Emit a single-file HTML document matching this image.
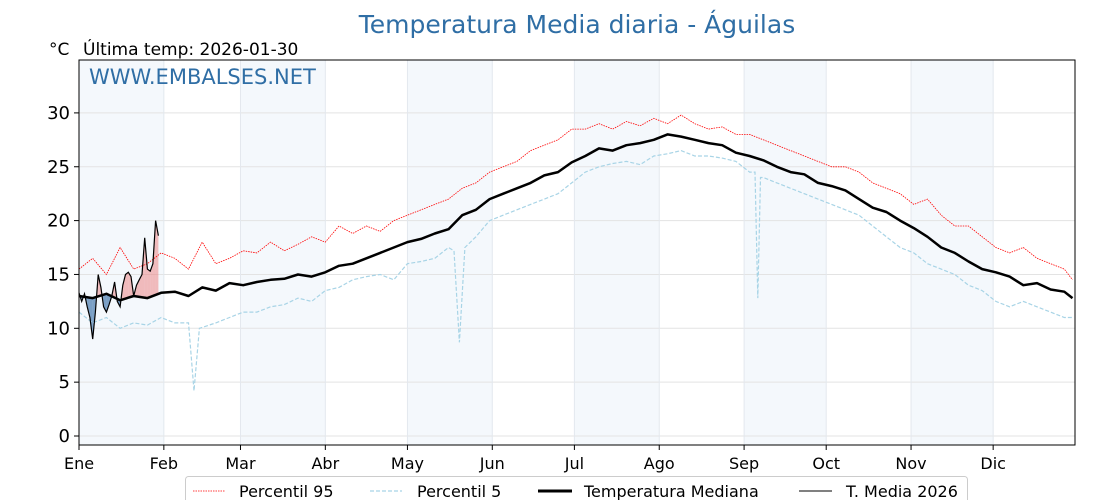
<!DOCTYPE html>
<html><head><meta charset="utf-8">
<style>
body{margin:0;background:#fff;}
svg{display:block;font-family:"Liberation Sans","DejaVu Sans",sans-serif;}
</style></head>
<body>
<svg id="chart" width="1120" height="500" viewBox="0 0 1120 500">
<text x="577" y="33" text-anchor="middle" font-size="25" fill="#2f6ea5" font-family="DejaVu Sans, sans-serif">Temperatura Media diaria - Águilas</text>
<text x="49" y="55" font-size="17" fill="#000" font-family="DejaVu Sans, sans-serif">°C</text>
<text x="83" y="55" font-size="17" fill="#000" font-family="DejaVu Sans, sans-serif">Última temp: 2026-01-30</text>
<g id="bands"></g>
<g id="grid"></g>
<g id="series"></g>
<text x="89" y="84" font-size="21" fill="#2f6ea5" font-family="DejaVu Sans, sans-serif">WWW.EMBALSES.NET</text>
<rect x="79" y="60" width="996" height="385" fill="none" stroke="#000" stroke-width="1"/>
<g id="axes"></g>
<g>
<rect x="185.5" y="476.5" width="782" height="30" rx="3" fill="#fff" stroke="#ccc"/>
<line x1="193" y1="491" x2="225" y2="491" stroke="red" stroke-width="0.8" stroke-dasharray="1.5,1"/>
<text x="239" y="497" font-size="16" font-family="DejaVu Sans, sans-serif">Percentil 95</text>
<line x1="370" y1="491" x2="402" y2="491" stroke="#a8d4e6" stroke-width="1.2" stroke-dasharray="4,2"/>
<text x="417" y="497" font-size="16" font-family="DejaVu Sans, sans-serif">Percentil 5</text>
<line x1="538" y1="491" x2="572" y2="491" stroke="#000" stroke-width="3"/>
<text x="584" y="497" font-size="16" font-family="DejaVu Sans, sans-serif">Temperatura Mediana</text>
<line x1="799" y1="491" x2="832" y2="491" stroke="#000" stroke-width="1"/>
<text x="846" y="497" font-size="16" font-family="DejaVu Sans, sans-serif">T. Media 2026</text>
</g>
</svg>
<script>
const monthLabels=["Ene","Feb","Mar","Abr","May","Jun","Jul","Ago","Sep","Oct","Nov","Dic"];
const monthStarts=[0,31,59,90,120,151,181,212,243,273,304,334];
const yTicks=[0,5,10,15,20,25,30];
const stepDays=[0,5,10,15,20,25,30,35,40,45,50,55,60,65,70,75,80,85,90,95,100,105,110,115,120,125,130,135,140,145,150,155,160,165,170,175,180,185,190,195,200,205,210,215,220,225,230,235,240,245,250,255,260,265,270,275,280,285,290,295,300,305,310,315,320,325,330,335,340,345,350,355,360,363];
const medianVals=[13.0,12.8,13.2,12.6,13.0,12.8,13.3,13.4,13.0,13.8,13.5,14.2,14.0,
14.3,14.5,14.6,15.0,14.8,15.2,15.8,16.0,16.5,17.0,17.5,18.0,
18.3,18.8,19.2,20.5,21.0,22.0,22.5,23.0,23.5,24.2,24.5,25.4,
26.0,26.7,26.5,27.0,27.2,27.5,28.0,27.8,27.5,27.2,27.0,26.3,
26.0,25.6,25.0,24.5,24.3,23.5,23.2,22.8,22.0,21.2,20.8,20.0,
19.3,18.5,17.5,17.0,16.2,15.5,15.2,14.8,14.0,14.2,13.6,13.4,12.8];
const p95Vals=[15.5,16.5,15.0,17.5,15.5,16.0,17.0,16.5,15.5,18.0,16.0,16.5,17.2,
17.0,18.0,17.2,17.8,18.5,18.0,19.5,18.8,19.5,19.0,20.0,20.5,
21.0,21.5,22.0,23.0,23.5,24.5,25.0,25.5,26.5,27.0,27.5,28.5,
28.5,29.0,28.5,29.2,28.8,29.5,29.0,29.8,29.0,28.5,28.7,28.0,
28.0,27.5,27.0,26.5,26.0,25.5,25.0,25.0,24.5,23.5,23.0,22.5,
21.5,22.0,20.5,19.5,19.5,18.5,17.5,17.0,17.5,16.5,16.0,15.5,14.5];
const p5Days=[0,5,10,15,20,25,30,35,40,42,44,50,55,60,65,70,75,80,85,90,95,100,105,110,115,120,125,130,135,137,139,141,145,150,155,160,165,170,175,180,185,190,195,200,205,210,215,220,225,230,235,240,245,247,248,249,250,255,260,265,270,275,280,285,290,295,300,305,310,315,320,325,330,335,340,345,350,355,360,363];
const p5Vals=[11.5,10.5,11.0,10.0,10.5,10.3,11.0,10.5,10.5,4.2,10.0,10.5,11.0,11.5,
11.5,12.0,12.2,12.8,12.5,13.5,13.8,14.5,14.8,15.0,14.5,16.0,
16.2,16.5,17.5,17.2,8.7,17.5,18.5,20.0,20.5,21.0,21.5,22.0,22.5,23.5,
24.5,25.0,25.3,25.5,25.2,26.0,26.2,26.5,26.0,26.0,25.8,25.5,
24.5,24.5,12.8,24.0,24.0,23.5,23.0,22.5,22.0,21.5,21.0,20.5,19.5,18.5,17.5,
17.0,16.0,15.5,15.0,14.0,13.5,12.5,12.0,12.5,12.0,11.5,11.0,11.0];
const days2026=[0,1,2,3,4,5,6,7,8,9,10,11,12,13,14,15,16,17,18,19,20,21,22,23,24,25,26,27,28,29];
const vals2026=[13.3,12.5,13.2,12.0,11.0,9.0,11.5,15.0,13.8,12.0,11.5,12.2,13.0,14.3,12.5,12.0,14.0,15.0,15.2,14.8,13.0,14.0,14.5,15.0,18.4,15.5,15.3,16.0,20.0,18.6];

const NS="http://www.w3.org/2000/svg";
const X0=79,X1=1075,Y0=60,Y1=445;
const xs=d=>X0+d*2.737;
const ys=v=>436-v*10.77;
function mk(tag,attrs,parent){const e=document.createElementNS(NS,tag);for(const k in attrs)e.setAttribute(k,attrs[k]);document.getElementById(parent).appendChild(e);return e;}
function interp(dArr,vArr,d){for(let i=0;i<dArr.length-1;i++){if(d>=dArr[i]&&d<=dArr[i+1]){const t=(d-dArr[i])/(dArr[i+1]-dArr[i]);return vArr[i]+t*(vArr[i+1]-vArr[i]);}}return vArr[vArr.length-1];}

for(let i=0;i<12;i+=2){
  const end=i+1<12?monthStarts[i+1]:364;
  const r=mk('rect',{x:xs(monthStarts[i]),y:Y0,width:xs(end)-xs(monthStarts[i]),height:Y1-Y0,fill:'#f4f8fc'},'bands');
  
  
}
yTicks.forEach(v=>{
  const l=mk('line',{x1:X0,x2:X1,y1:ys(v),y2:ys(v),stroke:'#e3e3e3','stroke-width':1},'grid');
  
  
});
monthStarts.forEach(d=>{
  const l=mk('line',{x1:xs(d),x2:xs(d),y1:Y0,y2:Y1,stroke:'#e3e8ee','stroke-width':1},'grid');
  
  
});
yTicks.forEach(v=>{
  const t=mk('line',{x1:X0-5,x2:X0,y1:ys(v),y2:ys(v),stroke:'#000'},'axes');
  
  
  const tx=mk('text',{x:X0-9,y:ys(v)+6,'text-anchor':'end','font-size':18,'font-family':'DejaVu Sans, sans-serif'},'axes');
  tx.textContent=v;
  
  
});
monthStarts.forEach((d,i)=>{
  const t=mk('line',{x1:xs(d),x2:xs(d),y1:Y1,y2:Y1+5,stroke:'#000'},'axes');
  
  
  const tx=mk('text',{x:xs(d),y:469,'text-anchor':'middle','font-size':16,'font-family':'DejaVu Sans, sans-serif'},'axes');
  tx.textContent=monthLabels[i];
  
  
});
function pathD(dArr,vArr){return dArr.map((d,i)=>(i?'L':'M')+xs(d).toFixed(1)+','+ys(vArr[i]).toFixed(1)).join(' ');}

for(let i=0;i<days2026.length-1;i++){
  const d0=days2026[i],d1=days2026[i+1];
  const a0=vals2026[i],a1=vals2026[i+1];
  const m0=interp(stepDays,medianVals,d0),m1=interp(stepDays,medianVals,d1);
  const e0=a0-m0,e1=a1-m1;
  const segs=[];
  if(e0*e1>=0){segs.push([[d0,a0,m0],[d1,a1,m1],e0+e1]);}
  else{const t=e0/(e0-e1);const dc=d0+t*(d1-d0);const mc=m0+t*(m1-m0);
    segs.push([[d0,a0,m0],[dc,mc,mc],e0]);segs.push([[dc,mc,mc],[d1,a1,m1],e1]);}
  segs.forEach(s=>{
    const [p,q,sg]=s;
    const pts=[[p[0],p[1]],[q[0],q[1]],[q[0],q[2]],[p[0],p[2]]].map(z=>xs(z[0]).toFixed(1)+','+ys(z[1]).toFixed(1)).join(' ');
    const poly=mk('polygon',{points:pts,fill:sg>=0?'rgba(235,110,110,0.45)':'rgba(40,100,160,0.6)',stroke:'none'},'series');
    
    
  });
}
const p95=mk('path',{d:pathD(stepDays,p95Vals),fill:'none',stroke:'red','stroke-width':0.8,'stroke-dasharray':'1.5,1'},'series');


const p5=mk('path',{d:pathD(p5Days,p5Vals),fill:'none',stroke:'#a8d4e6','stroke-width':1.2,'stroke-dasharray':'4,2'},'series');


const med=mk('path',{d:pathD(stepDays,medianVals),fill:'none',stroke:'#000','stroke-width':2.5,'stroke-linejoin':'round'},'series');


const cur=mk('path',{d:pathD(days2026,vals2026),fill:'none',stroke:'#000','stroke-width':1.2},'series');


</script>
</body></html>
